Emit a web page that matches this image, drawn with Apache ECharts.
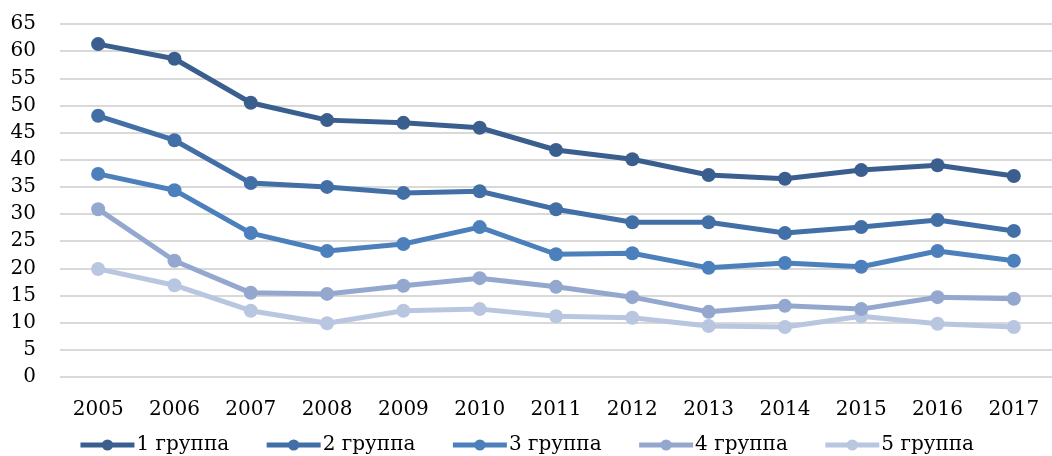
<!DOCTYPE html>
<html>
<head>
<meta charset="utf-8">
<script src="https://cdn.jsdelivr.net/npm/echarts@6/dist/echarts.min.js"></script>
<style>
  html, body { margin: 0; padding: 0; background: #fff; }
  #chart { width: 1052px; height: 456px; }
</style>
</head>
<body>
<div id="chart"></div>
<script>
const years = ['2005', '2006', '2007', '2008', '2009', '2010', '2011', '2012', '2013', '2014', '2015', '2016', '2017'];
const names = ['1 группа', '2 группа', '3 группа', '4 группа', '5 группа'];
const group1 = [61.3, 58.6, 50.5, 47.3, 46.8, 45.9, 41.8, 40.1, 37.2, 36.5, 38.1, 39.0, 37.0];
const group2 = [48.1, 43.6, 35.7, 35.0, 33.9, 34.2, 30.9, 28.5, 28.5, 26.5, 27.6, 28.9, 26.9];
const group3 = [37.4, 34.4, 26.5, 23.2, 24.5, 27.6, 22.6, 22.8, 20.1, 21.0, 20.3, 23.2, 21.4];
const group4 = [30.9, 21.4, 15.5, 15.3, 16.8, 18.2, 16.6, 14.7, 12.0, 13.1, 12.5, 14.7, 14.4];
const group5 = [19.9, 16.9, 12.2, 9.9, 12.2, 12.5, 11.2, 10.9, 9.4, 9.2, 11.2, 9.8, 9.2];

const colors = ['#3a5f8f', '#416fa6', '#4c80bd', '#94a8cf', '#b9c6e0'];
const font = '"DejaVu Serif", "Liberation Serif", serif';

const chart = echarts.init(document.getElementById('chart'));
const data = [group1, group2, group3, group4, group5];

chart.setOption({
  animation: false,
  backgroundColor: '#ffffff',
  color: colors,
  grid: { left: 60, right: -12, top: 24, bottom: 79, containLabel: false },
  legend: {
    data: names,
    left: 'center',
    top: 430,
    itemWidth: 54,
    itemHeight: 14,
    itemGap: 35,
    lineStyle: { width: 5 },
    textStyle: { fontFamily: font, fontSize: 20, color: '#000', padding: [0, 0, 0, -3] }
  },
  xAxis: {
    type: 'category',
    data: years,
    boundaryGap: true,
    axisLine: { show: false },
    axisTick: { show: false },
    axisLabel: { fontFamily: font, fontSize: 20, color: '#000', margin: 23 }
  },
  yAxis: {
    type: 'value',
    min: 0,
    max: 65,
    interval: 5,
    axisLine: { show: false },
    axisTick: { show: false },
    axisLabel: { fontFamily: font, fontSize: 20, color: '#000', margin: 24 },
    splitLine: { lineStyle: { color: '#d9d9d9', width: 2 } }
  },
  series: names.map((n, i) => ({
    name: n,
    type: 'line',
    data: data[i],
    symbol: 'circle',
    symbolSize: 14,
    lineStyle: { width: 5, color: colors[i] },
    itemStyle: { color: colors[i] },
    z: 10 - i
  }))
});
</script>
</body>
</html>
